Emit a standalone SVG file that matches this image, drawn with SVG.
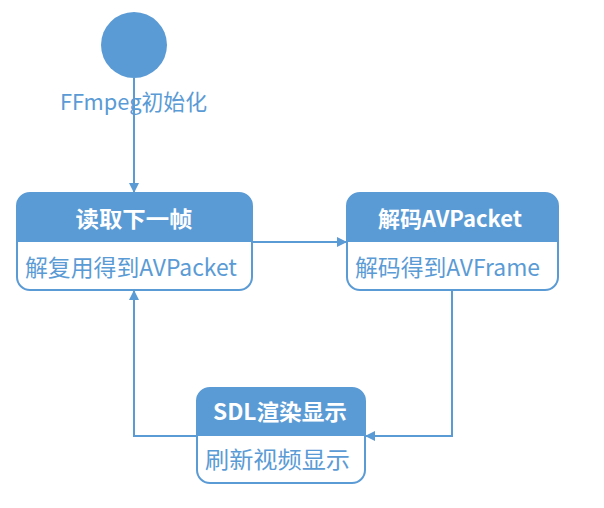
<svg xmlns="http://www.w3.org/2000/svg" width="604" height="508" viewBox="0 0 604 508">
<defs>
<style>
.t{font-family:"Noto Sans CJK SC","Noto Sans",sans-serif;}
.h{font-size:22px;font-weight:bold;fill:#fff;text-anchor:middle;}
.b{font-size:23px;fill:#5b9bd5;}
.box{fill:#fff;stroke:#5b9bd5;stroke-width:2;}
.hd{fill:#5b9bd5;}
.ln{fill:none;stroke:#5b9bd5;stroke-width:2;}
</style>
<marker id="ar" viewBox="0 0 10 10" refX="9" refY="5" markerWidth="10" markerHeight="10" markerUnits="userSpaceOnUse" orient="auto">
<path d="M0,0 L10,5 L0,10 z" fill="#5b9bd5"/>
</marker>
</defs>
<rect width="604" height="508" fill="#fff"/>
<g id="connectors">
<path class="ln" d="M134,78 V192" marker-end="url(#ar)"/>
<path class="ln" d="M252,242 H346" marker-end="url(#ar)"/>
<path class="ln" d="M452,290 V436 H366" marker-end="url(#ar)"/>
<path class="ln" d="M197,436 H134 V291" marker-end="url(#ar)"/>
</g>
<g id="start">
<circle cx="134" cy="45" r="33" fill="#5b9bd5"/>
<text class="t" x="60" y="110" font-size="22" fill="#5b9bd5" textLength="147" lengthAdjust="spacingAndGlyphs">FFmpeg初始化</text>
</g>
<g id="read">
<rect class="box" x="17" y="193" width="235" height="97" rx="13"/>
<path class="hd" d="M17,242 V206 A13,13 0 0 1 30,193 H239 A13,13 0 0 1 252,206 V242 Z"/>
<text class="t h" x="134" y="227" textLength="117" lengthAdjust="spacingAndGlyphs">读取下一帧</text>
<text class="t b" x="25" y="276" textLength="212" lengthAdjust="spacingAndGlyphs">解复用得到AVPacket</text>
</g>
<g id="decode">
<rect class="box" x="347" y="193" width="211" height="97" rx="13"/>
<path class="hd" d="M347,242 V206 A13,13 0 0 1 360,193 H545 A13,13 0 0 1 558,206 V242 Z"/>
<text class="t h" x="450" y="227" textLength="144" lengthAdjust="spacingAndGlyphs">解码AVPacket</text>
<text class="t b" x="355" y="276" textLength="185" lengthAdjust="spacingAndGlyphs">解码得到AVFrame</text>
</g>
<g id="render">
<rect class="box" x="197" y="388" width="168" height="95" rx="13"/>
<path class="hd" d="M197,436 V401 A13,13 0 0 1 210,388 H352 A13,13 0 0 1 365,401 V436 Z"/>
<text class="t h" x="280" y="420" textLength="134" lengthAdjust="spacingAndGlyphs">SDL渲染显示</text>
<text class="t b" x="205" y="468" textLength="145" lengthAdjust="spacingAndGlyphs">刷新视频显示</text>
</g>
</svg>
